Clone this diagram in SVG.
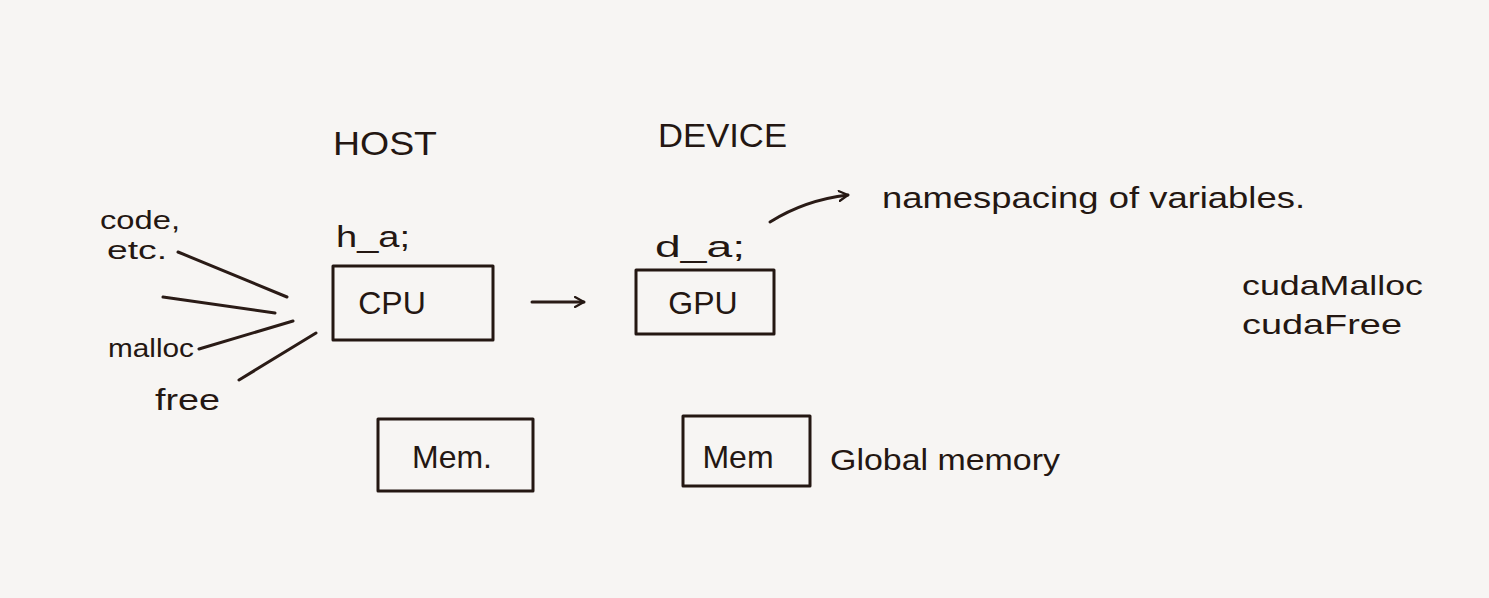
<svg xmlns="http://www.w3.org/2000/svg" width="1489" height="598" viewBox="0 0 1489 598">
<style>
.t{font-family:"Liberation Sans",Arial,sans-serif;fill:#241712}
.box{fill:none;stroke:#241712;stroke-width:3;stroke-linejoin:round}
.ln{fill:none;stroke:#2a1b16;stroke-width:3;stroke-linecap:round}
</style>
<defs>
<marker id="arr" viewBox="0 0 12 12" refX="10" refY="6" markerWidth="12" markerHeight="12" markerUnits="userSpaceOnUse" orient="auto">
<path d="M1,1 L10,6 L1,11" fill="none" stroke="#241712" stroke-width="2.2" stroke-linecap="round" stroke-linejoin="round"/>
</marker>
</defs>
<rect width="1489" height="598" fill="#f7f5f3"/>
<g id="host-label"><text class="t" x="333" y="155" font-size="34" textLength="104" lengthAdjust="spacingAndGlyphs">HOST</text></g>
<g id="device-label"><text class="t" x="658" y="147" font-size="34" textLength="129" lengthAdjust="spacingAndGlyphs">DEVICE</text></g>
<g id="h_a"><text class="t" x="336" y="247" font-size="30" textLength="74" lengthAdjust="spacingAndGlyphs">h_a;</text></g>
<g id="d_a"><text class="t" x="655" y="257" font-size="30" textLength="90" lengthAdjust="spacingAndGlyphs">d_a;</text></g>
<g id="cpu"><rect class="box" x="333" y="266" width="160" height="74"/><text class="t" x="392" y="314" font-size="32" text-anchor="middle">CPU</text></g>
<g id="gpu"><rect class="box" x="636" y="270" width="138" height="64"/><text class="t" x="703" y="314" font-size="32" text-anchor="middle">GPU</text></g>
<g id="host-mem"><rect class="box" x="378" y="419" width="155" height="72"/><text class="t" x="452" y="468" font-size="32" text-anchor="middle">Mem.</text></g>
<g id="device-mem"><rect class="box" x="683" y="416" width="127" height="70"/><text class="t" x="738" y="468" font-size="32" text-anchor="middle">Mem</text></g>
<g id="global-memory"><text class="t" x="830" y="470" font-size="30" textLength="230" lengthAdjust="spacingAndGlyphs">Global memory</text></g>
<g id="namespacing"><text class="t" x="882" y="208" font-size="30" textLength="423" lengthAdjust="spacingAndGlyphs">namespacing of variables.</text></g>
<g id="cuda-calls"><text class="t" x="1242" y="295" font-size="28" textLength="181" lengthAdjust="spacingAndGlyphs">cudaMalloc</text><text class="t" x="1242" y="334" font-size="28" textLength="160" lengthAdjust="spacingAndGlyphs">cudaFree</text></g>
<g id="code-etc"><text class="t" x="100" y="229" font-size="26" textLength="80" lengthAdjust="spacingAndGlyphs">code,</text><text class="t" x="107" y="259" font-size="26" textLength="60" lengthAdjust="spacingAndGlyphs">etc.</text></g>
<g id="malloc"><text class="t" x="108" y="357" font-size="26" textLength="86" lengthAdjust="spacingAndGlyphs">malloc</text></g>
<g id="free"><text class="t" x="155" y="410" font-size="30" textLength="65" lengthAdjust="spacingAndGlyphs">free</text></g>
<g id="connectors">
<line class="ln" x1="178" y1="252" x2="287" y2="297"/>
<line class="ln" x1="163" y1="297" x2="275" y2="313"/>
<line class="ln" x1="199" y1="349" x2="293" y2="321"/>
<line class="ln" x1="239" y1="380" x2="316" y2="333"/>
<line class="ln" x1="532" y1="302" x2="584" y2="302" marker-end="url(#arr)"/>
<path class="ln" d="M770,222 Q805,200 848,195" marker-end="url(#arr)"/>
</g>
</svg>
